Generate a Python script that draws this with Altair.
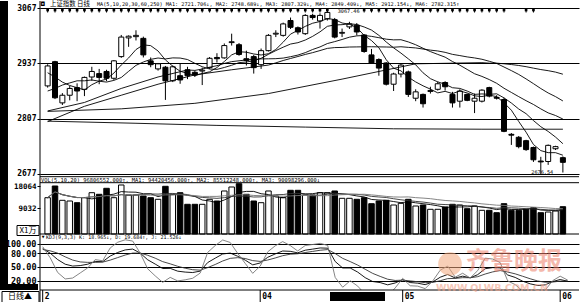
import altair as alt
import pandas as pd

# ---------------- data ----------------
opens = [2884, 2941, 2844, 2862, 2880, 2876, 2905, 2913, 2918, 2902,
         2953, 2997, 3000, 2996, 2943, 2924, 2928, 2896, 2908, 2922,
         2916, 2919, 2927, 2951, 2950, 2986, 2981, 2948, 2953, 2934,
         2967, 3006, 3003, 3038, 3021, 3007, 3050, 3037, 3042, 3040,
         3008, 3023, 3027, 3004, 2957, 2946, 2938, 2888, 2912, 2917,
         2855, 2864, 2871, 2876, 2892, 2864, 2848, 2864, 2848, 2848,
         2880, 2857, 2852, 2770, 2763, 2755, 2739, 2707, 2706, 2736,
         2715]
highs = [2935, 2943, 2867, 2884, 2890, 2906, 2929, 2924, 2922, 2945,
         3004, 3003, 3015, 3000, 2951, 2938, 2931, 2932, 2936, 2929,
         2920, 2927, 2952, 2961, 2984, 3007, 2985, 2967, 2957, 2972,
         3006, 3015, 3033, 3045, 3024, 3053, 3054, 3055, 3067.46, 3044,
         3019, 3035, 3032, 3006, 2971, 2949, 2940, 2915, 2936, 2920,
         2876, 2866, 2882, 2894, 2895, 2870, 2876, 2866, 2866, 2876,
         2882, 2862, 2856, 2773, 2766, 2757, 2741, 2717, 2746, 2743,
         2718]
lows = [2880, 2853, 2839, 2850, 2848, 2860, 2896, 2888, 2895, 2898,
        2950, 2976, 2991, 2951, 2928, 2920, 2851, 2893, 2889, 2900,
        2905, 2886, 2924, 2939, 2948, 2979, 2955, 2932, 2913, 2924,
        2965, 2999, 3000, 3018, 3005, 3004, 3040, 3019, 3038, 2996,
        2999, 3018, 3003, 2962, 2936, 2908, 2885, 2872, 2904, 2858,
        2848, 2833, 2866, 2873, 2873, 2833, 2833, 2848, 2820, 2845,
        2857, 2852, 2775, 2745, 2737, 2731, 2705, 2676.54, 2698, 2733,
        2680]
closes = [2931, 2856, 2862, 2878, 2872, 2904, 2918, 2904, 2902, 2943,
          2999, 3001, 3003, 2957, 2934, 2936, 2896, 2929, 2898, 2908,
          2910, 2921, 2949, 2948, 2979, 2988, 2958, 2944, 2927, 2967,
          3003, 3008, 3030, 3022, 3011, 3050, 3045, 3050, 3057, 2999,
          3010, 3030, 3011, 2965, 2938, 2926, 2888, 2912, 2933, 2864,
          2870, 2842, 2873, 2889, 2882, 2844, 2872, 2850, 2855, 2874,
          2860, 2855, 2777, 2768, 2741, 2734, 2710, 2705, 2744, 2741,
          2704]
# volume in units of 10,000 (X1万)
volumes = [13325, 18064, 12272, 11988, 11300, 13325, 15350, 14700, 17130, 13325,
           18470, 14420, 14420, 14013, 13325, 12677, 17942, 14700, 15350, 10650,
           10650, 10650, 12677, 11988, 16040, 17660, 19000, 14700, 11988, 11300,
           16040, 14013, 13325, 16320, 16320, 14420, 14420, 15350, 15350, 16040,
           13082, 13082, 12677, 13325, 10895, 11988, 12272, 10368, 11057, 12677,
           9963, 10368, 8627, 8627, 9558, 10650, 10368, 8870, 9963, 8222,
           8222, 7250, 10895, 8222, 8222, 8627, 9275, 7250, 7534, 7939,
           9680]

# moving-average values at the left edge (before a full window exists)
ma5_head = [2915, 2905, 2893, 2885]
ma10_head = [2872, 2878, 2886, 2891, 2896, 2896, 2898, 2895, 2893]
ma20_head_i = [0, 5, 10, 15]
ma20_head_v = [2825, 2845, 2878, 2905]
ma30_head_i = [0, 5, 10, 15, 20, 25]
ma30_head_v = [2800, 2836, 2862, 2888, 2910, 2922]
ma60_head_i = [0, 10, 20, 30, 40, 50]
ma60_head_v = [2824, 2830, 2843, 2866, 2900, 2936]
ma250_i = [0, 12, 23, 35, 47, 59, 70]
ma250_v = [2801, 2796, 2791, 2787, 2783, 2782, 2782]

kdj_k = [90, 80, 66, 56, 52, 53, 56, 62, 61.5, 73.7,
         81.5, 87.0, 88.9, 80.2, 65.6, 56.3, 46.6, 47.0, 40.9, 38.9,
         37.9, 41.0, 59.6, 69.1, 78.2, 80.2, 73.3, 64.9, 54.6, 58.7,
         71.0, 78.3, 84.7, 84.0, 80.7, 86.4, 88.8, 91.3, 90.8, 61.9,
         47.8, 47.8, 38.9, 26.8, 18.4, 16.1, 11.2, 15.3, 22.7, 16.2,
         14.8, 11.6, 17.4, 27.7, 33.8, 26.1, 30.0, 26.5, 33.3, 46.2,
         48.6, 48.0, 32.6, 27.3, 19.1, 13.4, 9.8, 11.1, 18.3, 22.8,
         19.0]
kdj_d = [88, 85, 80, 72, 65, 61, 60, 60, 60.5, 64.9,
         70.4, 75.9, 80.2, 80.2, 75.4, 69.1, 61.6, 56.8, 51.5, 47.3,
         44.1, 43.1, 48.6, 55.4, 63.0, 68.7, 70.2, 68.4, 63.8, 62.1,
         65.1, 69.5, 74.5, 77.7, 78.7, 81.3, 83.8, 86.3, 87.8, 79.2,
         68.7, 61.7, 54.1, 45.0, 36.1, 29.5, 23.4, 20.7, 21.4, 19.7,
         18.0, 15.9, 16.4, 20.1, 24.7, 25.2, 26.8, 26.7, 28.9, 34.7,
         39.3, 42.2, 39.0, 35.1, 29.8, 24.4, 19.6, 16.8, 17.3, 19.2,
         19.7]
kdj_j = [94, 70, 38, 24, 26, 37, 48, 66, 63.5, 91.3,
         103.7, 109.0, 106.3, 80.2, 46.0, 30.7, 16.6, 27.4, 19.7, 22.1,
         25.5, 36.8, 81.6, 96.5, 108.6, 103.2, 79.5, 57.9, 36.2, 51.9,
         82.8, 95.9, 105.1, 96.6, 84.7, 96.6, 98.8, 101.3, 96.8, 27.3,
         6.0, 20.0, 8.5, -9.6, -17.0, -10.7, -13.2, 4.5, 25.3, 9.2,
         8.4, 3.0, 19.4, 42.9, 52.0, 27.9, 36.4, 26.1, 42.1, 69.2,
         67.2, 59.6, 19.8, 11.7, -2.3, -8.6, -9.8, -0.3, 20.3, 30.0,
         21.5]

month_i = [0, 29, 48, 69]
month_txt = ["2", "04", "05", "06"]
marker_i = list(range(0, 39)) + list(range(43, 63)) + [65, 66]

price_ticks = [2677, 2807, 2937, 3067]
vol_ticks = [9032, 18064]
kdj_ticks = [20, 50, 80, 100]

header_cn = "上证指数 日线"
header_ma = ("MA(5,10,20,30,60,250) MA1: 2721.706↓, MA2: 2748.689↓, MA3: 2807.329↓, "
             "MA4: 2849.409↓, MA5: 2912.154↓, MA6: 2782.315↑")
header_vol = ("VOL(5,10,20) 96806552.000↑, MA1: 94420456.000↑, MA2: 85512248.000↑, "
              "MA3: 90098296.000↓")
header_kdj = "KDJ(9,3,3) K: 18.965↓, D: 19.684↑, J: 21.526↓"
max_label = "3067.46"
min_label = "2676.54"
unit_label = "X1万"
period_label = "日线▲"
wm_cn = "齐鲁晚报"
wm_url = "WWW.QLWB.COM.CN"

# ---------------- tables ----------------
n = len(closes)
df = pd.DataFrame({"i": list(range(n)), "o": opens, "h": highs, "l": lows,
                   "c": closes, "v": volumes})
df["dir"] = ["up" if c >= o else "down" for o, c in zip(opens, closes)]

s = pd.Series(closes, dtype=float)
rows = []
for name, w, head in [("MA5", 5, ma5_head), ("MA10", 10, ma10_head)]:
    m = s.rolling(w).mean()
    for i in range(n):
        rows.append((i, head[i] if i < len(head) else m[i], name))
for name, w, hi, hv in [("MA20", 20, ma20_head_i, ma20_head_v),
                        ("MA30", 30, ma30_head_i, ma30_head_v),
                        ("MA60", 60, ma60_head_i, ma60_head_v)]:
    m = s.rolling(w).mean()
    for i, v in zip(hi, hv):
        rows.append((i, v, name))
    for i in range(w - 1, n):
        rows.append((i, m[i], name))
for i, v in zip(ma250_i, ma250_v):
    rows.append((i, v, "MA250"))
df_ma = pd.DataFrame(rows, columns=["i", "v", "ma"])

sv = pd.Series(volumes, dtype=float)
vrows = []
for name, w in [("M5", 5), ("M10", 10), ("M20", 20)]:
    m = sv.rolling(w, min_periods=1).mean()
    for i in range(n):
        vrows.append((i, m[i], name))
df_vma = pd.DataFrame(vrows, columns=["i", "v", "ma"])

krows = []
for name, arr in [("K", kdj_k), ("D", kdj_d), ("J", kdj_j)]:
    for i, v in enumerate(arr):
        krows.append((i, v, name))
df_kdj = pd.DataFrame(krows, columns=["i", "v", "line"])

df_month = pd.DataFrame({"i": month_i, "t": month_txt})
df_mark = pd.DataFrame({"i": marker_i})
one = pd.DataFrame({"a": [0]})

# ---------------- geometry / style ----------------
W, HP, HV, HK = 539, 166, 60, 56
MONO = "DejaVu Sans Mono"
CJK = "Noto Sans CJK SC"
xs = alt.Scale(domain=[-0.36, 71.51], nice=False, zero=False)
X = alt.X("i:Q", scale=xs, axis=None)
ys_p = alt.Scale(domain=[2676.54, 3067.46], nice=False, zero=False)
ys_v = alt.Scale(domain=[-1376, 22924], nice=False, zero=False)
ys_k = alt.Scale(domain=[0, 121.6], nice=False, zero=False)
fill = alt.Fill("dir:N", scale=alt.Scale(domain=["up", "down"], range=["#ffffff", "#000000"]),
                legend=None)


def yaxis(values, fmt, size, grid=True):
    return alt.Axis(values=values, format=fmt, title=None, labelFont=MONO,
                    labelFontWeight="bold", labelFontSize=size, labelColor="black",
                    tickColor="black", tickSize=3, labelPadding=1, domain=False,
                    grid=grid, gridColor="black", gridWidth=1, labelFlush=False)


AX_P = yaxis(price_ticks, "d", 8)
AX_V = yaxis(vol_ticks, "d", 7.5, grid=False)
AX_K = yaxis(kdj_ticks, ".2f", 8.5)


def rect(x1, x2, y1, y2, color="black"):
    return alt.Chart(one).mark_rect(color=color).encode(
        x=alt.value(x1), x2=alt.value(x2), y=alt.value(y1), y2=alt.value(y2))


def hline(y, x1=0, x2=W):
    return alt.Chart(one).mark_rule(color="black", strokeWidth=1).encode(
        x=alt.value(x1), x2=alt.value(x2), y=alt.value(y))


def vline(x, y1, y2):
    return alt.Chart(one).mark_rule(color="black", strokeWidth=1).encode(
        x=alt.value(x), y=alt.value(y1), y2=alt.value(y2))


def label(text, x, y, size, font=MONO, align="left", color="black", weight="normal",
          opacity=1.0):
    return alt.Chart(pd.DataFrame({"t": [text]})).mark_text(
        font=font, fontSize=size, align=align, baseline="middle", color=color,
        fontWeight=weight, opacity=opacity).encode(
        x=alt.value(x), y=alt.value(y), text="t:N")


# ---------------- price panel ----------------
base = alt.Chart(df)
wick = base.mark_rule(color="black", strokeWidth=1).encode(
    x=X, y=alt.Y("l:Q", scale=ys_p, axis=AX_P), y2="h:Q")
body = base.mark_bar(size=5, stroke="black", strokeWidth=1).encode(
    x=X, y=alt.Y("o:Q", scale=ys_p, axis=AX_P), y2="c:Q", fill=fill)
ma_lines = alt.Chart(df_ma).mark_line(color="black", strokeWidth=0.9, clip=True).encode(
    x=X, y=alt.Y("v:Q", scale=ys_p, axis=AX_P), detail="ma:N", order="i:Q")
marks_sq = alt.Chart(df_mark).mark_square(size=7, color="black", filled=True, opacity=1).encode(
    x=X, y=alt.value(2))
marks_tk = alt.Chart(df_mark).mark_rule(color="black", strokeWidth=1).encode(
    x=X, y=alt.value(0), y2=alt.value(4.5))
maxlab = alt.Chart(pd.DataFrame({"i": [39.4], "t": [max_label]})).mark_text(
    font=MONO, fontSize=5.2, align="left", baseline="middle", color="black").encode(
    x=X, y=alt.value(2.5), text="t:N")
minlab = alt.Chart(pd.DataFrame({"i": [67.2], "t": [min_label]})).mark_text(
    font=MONO, fontSize=5.2, align="center", baseline="middle", color="black").encode(
    x=X, y=alt.value(164.3), text="t:N")

price = alt.layer(
    wick, body, ma_lines, marks_tk, marks_sq, maxlab, minlab,
    rect(-40, -32, -7, HP), vline(0, -7, HP),
    label("◘", 1, -3.6, 6),
    label(header_cn, 10, -3.6, 6.4, font=CJK),
    label(header_ma, 57, -3.6, 5.2),
).properties(width=W, height=HP)

# ---------------- volume panel ----------------
vbars = alt.Chart(df).mark_bar(size=5.5, stroke="black", strokeWidth=1).encode(
    x=X, y=alt.Y("v:Q", scale=ys_v, axis=AX_V),
    y2=alt.datum(-1376), fill=fill)
vma = alt.Chart(df_vma).mark_line(strokeWidth=0.9, clip=True).encode(
    x=X, y=alt.Y("v:Q", scale=ys_v, axis=AX_V), detail="ma:N",
    color=alt.Color("ma:N", scale=alt.Scale(domain=["M5", "M10", "M20"],
                                            range=["#000000", "#333333", "#777777"]),
                    legend=None))
vol = alt.layer(
    vbars, vma,
    rect(-40, -32, 0, HV), vline(0, 0, HV),
    hline(2.7), hline(8.7), hline(HV),
    label(header_vol, 1, 5.6, 5.4),
    alt.Chart(one).mark_rect(fill="white", stroke="black", strokeWidth=1).encode(
        x=alt.value(-23), x2=alt.value(-1), y=alt.value(51.5), y2=alt.value(61.5)),
    label(unit_label, -12, 56.5, 8, font=CJK, align="center"),
).properties(width=W, height=HV)

# ---------------- KDJ panel ----------------
klines = alt.Chart(df_kdj).mark_line(strokeWidth=0.9, clip=True).encode(
    x=X, y=alt.Y("v:Q", scale=ys_k, axis=AX_K),
    detail="line:N",
    color=alt.Color("line:N", scale=alt.Scale(domain=["K", "D", "J"],
                                              range=["#000000", "#222222", "#444444"]),
                    legend=None))
mrules = alt.Chart(df_month).mark_rule(color="black", strokeWidth=1).encode(
    x=X, y=alt.value(HK), y2=alt.value(68.5))
mtext = alt.Chart(df_month).mark_text(
    font=MONO, fontSize=8, fontWeight="bold", align="left", baseline="middle",
    dx=2, color="black").encode(x=X, y=alt.value(63), text="t:N")

kdj = alt.layer(
    klines,
    rect(-40, -32, 0, 50), rect(-40, -2, 50, HK), vline(0, 0, 68.5),
    hline(HK), hline(68.5),
    label(header_kdj, 6, 3.4, 5.0),
    label("▾", 1, 3.4, 7),
    rect(290, 345, 58, 67),
    mrules, mtext,
    alt.Chart(one).mark_rect(fill="white", stroke="black", strokeWidth=1).encode(
        x=alt.value(-38), x2=alt.value(-1), y=alt.value(57.5), y2=alt.value(68.5)),
    label(period_label, -20, 63, 8, font=CJK, align="center"),
    alt.Chart(one).mark_point(shape="circle", filled=True, size=560, color="#f3a77c",
                              opacity=0.55).encode(x=alt.value(410), y=alt.value(30)),
    label(wm_cn, 474, 28, 24, font=CJK, align="center", color="#ec7f6a",
          weight="bold", opacity=0.55),
    label(wm_url, 452, 54, 9.5, font="DejaVu Sans", align="center", color="#f2a58c",
          weight="bold", opacity=0.6),
).properties(width=W, height=HK)

chart = alt.vconcat(price, vol, kdj, spacing=0, bounds="flush").properties(
    padding=0
).configure_view(stroke=None)

chart.save("out.html", embed_options={"renderer": "svg", "actions": False})
